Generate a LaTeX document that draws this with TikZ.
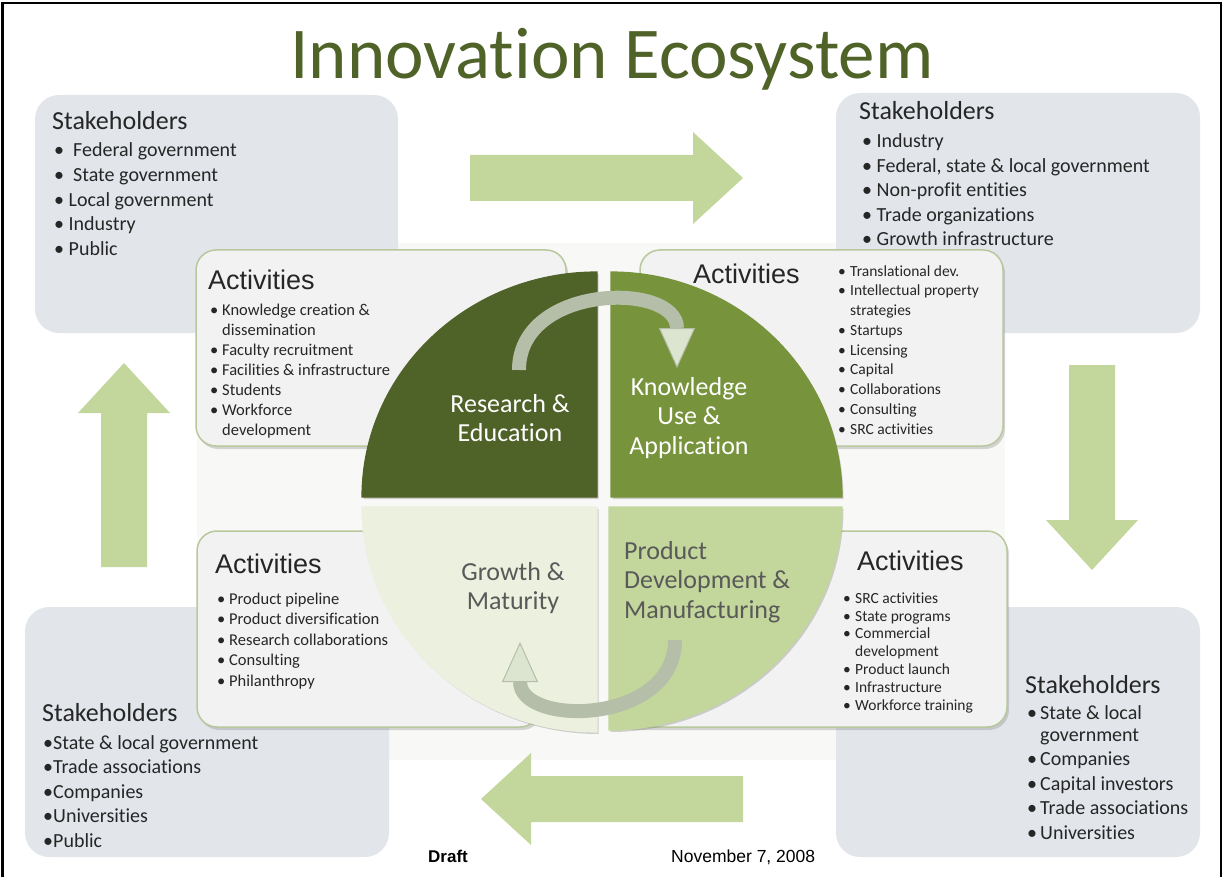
\documentclass[tikz,border=0pt]{standalone}
\usepackage{fontspec}
\setmainfont{Carlito}[Ligatures=NoCommon]
\newfontfamily\arialfont{Liberation Sans}
\usetikzlibrary{arrows.meta,shadows}

\definecolor{olivedark}{HTML}{4F6228}
\definecolor{olivemid}{HTML}{77933C}
\definecolor{olivelight}{HTML}{C3D69B}
\definecolor{olivepale}{HTML}{EBF1DE}
\definecolor{stakegray}{HTML}{E2E6EB}
\definecolor{actgray}{HTML}{F2F2F2}
\definecolor{actline}{HTML}{B9C89C}
\definecolor{panel}{HTML}{F8F8F6}
\definecolor{textgray}{HTML}{262626}
\definecolor{labelgray}{HTML}{595959}
\definecolor{flowdark}{HTML}{B5BEA8}
\definecolor{flowlight}{HTML}{DCE5D0}

\newcommand{\abul}{\makebox[12pt][l]{\textbullet}}
\newcommand{\acont}{\hspace*{12pt}}
\newcommand{\sbul}{\makebox[13pt][l]{\textbullet}}

\tikzset{
  pics/bigarrow/.style={code={
    \fill[olivelight] (0,-23) -- ({#1-50},-23) -- ({#1-50},-46) -- (#1,0)
      -- ({#1-50},46) -- ({#1-50},23) -- (0,23) -- cycle;}},
}

\begin{document}
\begin{tikzpicture}[x=1pt,y=1pt,
  sttitle/.style={anchor=base west,inner sep=0,text=textgray,font=\fontsize{26}{30}\selectfont},
  stlist/.style={anchor=base west,inner sep=0,text=textgray,align=left,font=\fontsize{20}{24.5}\selectfont},
  acttitle/.style={anchor=base west,inner sep=0,text=textgray,font=\arialfont\fontsize{27}{30}\selectfont},
  actlist/.style={anchor=base west,inner sep=0,text=textgray,align=left},
  actbox/.style={rounded corners=20pt,fill=actgray,draw=actline,line width=1.5pt,
    drop shadow={shadow xshift=2pt,shadow yshift=-3pt,opacity=.3}},
  quad/.style={draw=white,line width=1.2pt,
    drop shadow={shadow xshift=1.5pt,shadow yshift=-2pt,opacity=.35}},
  qlabel/.style={inner sep=0,font=\fontsize{26}{29.5}\selectfont},
  flow/.style={line width=14pt,draw=flowdark,
    -{Triangle[width=36pt,length=40pt,line width=1pt,fill=flowlight]}}]
\useasboundingbox (0,0) rectangle (1225,-877);

% backdrop of the cycle
\fill[panel] (197,-243) rectangle (1005,-760);

% stakeholder boxes
\foreach \x/\y/\w/\h in {35/95/363/238, 836/93/364/240, 25/607/364/250, 836/607/364/250}
  \fill[stakegray,rounded corners=24pt] (\x,-\y) rectangle ++(\w,-\h);

% big arrows between the stakeholders
\pic at (470,-178) {bigarrow=273};
\pic[rotate=-90] at (1092,-365) {bigarrow=205};
\pic[rotate=180] at (743,-799) {bigarrow=262};
\pic[rotate=90] at (124,-567) {bigarrow=204};

% activity boxes
\foreach \x/\y/\w in {196/250/370, 640/250/363, 197/531/343, 615/531/392}
  \draw[actbox] (\x,-\y) rectangle ++(\w,-196);

% the four quarters
\fill[quad,olivedark] (597,-497) -- ++(-235,0) arc[start angle=180,end angle=90,x radius=235,y radius=225] -- cycle;
\fill[quad,olivemid] (611,-497) -- ++(0,225) arc[start angle=90,end angle=0,x radius=231,y radius=225] -- cycle;
\fill[quad,olivepale] (597,-507) -- ++(-235,0) arc[start angle=180,end angle=270,x radius=235,y radius=225] -- cycle;
\fill[quad,olivelight] (609,-507) -- ++(233,0) arc[start angle=0,end angle=-90,x radius=233,y radius=223] -- cycle;

\node[qlabel,text=white,align=center] (research) at (510,-418) {Research \&\\Education};
\node[qlabel,text=white,align=center] (knowledge) at (689,-418) {Knowledge\\Use \&\\Application};
\node[qlabel,text=labelgray,align=center] (growth) at (513,-588) {Growth \&\\Maturity};
\node[qlabel,text=labelgray,align=left,anchor=west] (product) at (624,-582) {Product\\Development \&\\Manufacturing};

% flow inside the cycle
\coordinate (flowA) at (519,-370);
\coordinate (flowB) at (677,-368);
\coordinate (flowC) at (675,-640);
\coordinate (flowD) at (520,-642);
\draw[flow] (flowA) to[out=90,in=90,looseness=1.4] (flowB);
\draw[flow] (flowC) to[out=-90,in=-90,looseness=1.4] (flowD);

% title
\node[anchor=base,inner sep=0,text=olivedark,font=\fontsize{73}{80}\selectfont] (title) at (612,-79) {Innovation Ecosystem};

% stakeholders (lists sit on their last baseline)
\node[sttitle] (stTL) at (52,-130) {Stakeholders};
\node[stlist] (stTLlist) at (54,-255) {\textbullet~~Federal government\\ \textbullet~~State government\\
  \textbullet~Local government\\ \textbullet~Industry\\ \textbullet~Public};
\node[sttitle] (stTR) at (859,-120) {Stakeholders};
\node[stlist] (stTRlist) at (862,-246) {\textbullet~Industry\\ \textbullet~Federal, state \& local government\\
  \textbullet~Non-profit entities\\ \textbullet~Trade organizations\\ \textbullet~Growth infrastructure};
\node[sttitle] (stBL) at (42,-721) {Stakeholders};
\node[stlist] (stBLlist) at (43,-847) {\textbullet State \& local government\\ \textbullet Trade associations\\
  \textbullet Companies\\ \textbullet Universities\\ \textbullet Public};
\node[sttitle] (stBR) at (1025,-693) {Stakeholders};
\node[stlist] (stBRlist) at (1027,-839) {\sbul State \& local\\[-2.5pt] \hspace*{13pt}government\\
  \sbul Companies\\ \sbul Capital investors\\ \sbul Trade associations\\ \sbul Universities};

% activities
\node[acttitle] (actTL) at (208,-289) {Activities};
\node[actlist,font=\fontsize{16.5}{20}\selectfont] (actTLlist) at (210,-435) {\abul Knowledge creation \&\\
  \acont dissemination\\ \abul Faculty recruitment\\ \abul Facilities \& infrastructure\\
  \abul Students\\ \abul Workforce\\ \acont development};
\node[acttitle] (actTR) at (693,-283) {Activities};
\node[actlist,font=\fontsize{15.5}{19.75}\selectfont] (actTRlist) at (838,-434) {\abul Translational dev.\\
  \abul Intellectual property\\ \acont strategies\\ \abul Startups\\ \abul Licensing\\
  \abul Capital\\ \abul Collaborations\\ \abul Consulting\\ \abul SRC activities};
\node[acttitle] (actBL) at (215,-573) {Activities};
\node[actlist,font=\fontsize{16.5}{20.5}\selectfont] (actBLlist) at (217,-686) {\abul Product pipeline\\
  \abul Product diversification\\ \abul Research collaborations\\ \abul Consulting\\ \abul Philanthropy};
\node[acttitle] (actBR) at (857,-570) {Activities};
\node[actlist,font=\fontsize{15.5}{17.8}\selectfont] (actBRlist) at (843,-710) {\abul SRC activities\\
  \abul State programs\\ \abul Commercial\\ \acont development\\ \abul Product launch\\
  \abul Infrastructure\\ \abul Workforce training};

% footer
\node[anchor=base west,inner sep=0,font=\arialfont\bfseries\fontsize{17}{19}\selectfont] (draft) at (428,-862) {Draft};
\node[anchor=base west,inner sep=0,font=\arialfont\fontsize{17.5}{19}\selectfont] (date) at (671,-862) {November 7, 2008};

% frame
\draw[line width=2.5pt] (2.5,-877) -- (2.5,-3) -- (1221,-3) -- (1221,-877);
\end{tikzpicture}
\end{document}
